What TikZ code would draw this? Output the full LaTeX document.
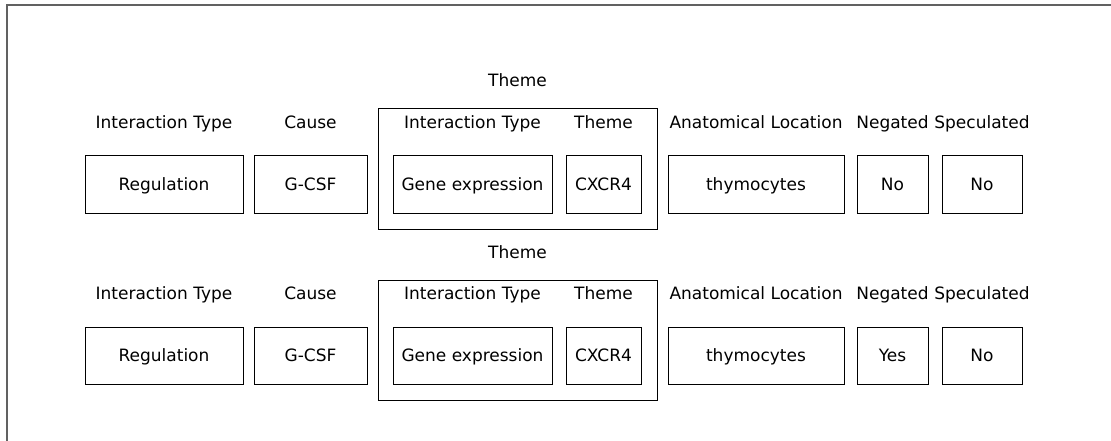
\documentclass[tikz,border=0pt]{standalone}
\usepackage{fontspec}
\setmainfont{DejaVu Sans}
\begin{document}
\begin{tikzpicture}[x=1pt,y=-1pt,
  txt/.style={inner sep=0pt,text height=12pt,text depth=0pt,font=\fontsize{17}{20}\selectfont},
  box/.style={txt,draw=black,line width=1pt,minimum height=57pt},
  lbl/.style={txt},
  outerbox/.style={draw=black,line width=1pt,minimum width=279pt,minimum height=120pt,inner sep=0pt},
  frame/.style={draw=black!62,line width=2pt}]
\useasboundingbox (0,0) rectangle (1111,441);
\clip (0,0) rectangle (1111,441);
\draw[frame] (6.5,5.5) rectangle (1140,470);
\foreach \r/\dy/\neg in {1/0/No,2/171/Yes}{
  \node[outerbox] (outer\r) at (517.5,169+\dy) {};
  \node[lbl] (lth\r) at (517.5,81+\dy) {Theme};
  \node[lbl] (lit\r) at (164,122.5+\dy) {Interaction Type};
  \node[lbl] (lca\r) at (310.5,122.5+\dy) {Cause};
  \node[lbl] (lii\r) at (472.5,122.5+\dy) {Interaction Type};
  \node[lbl] (lit2\r) at (603.5,122.5+\dy) {Theme};
  \node[lbl] (lan\r) at (756,122.5+\dy) {Anatomical Location};
  \node[lbl] (lne\r) at (892.5,122.5+\dy) {Negated};
  \node[lbl] (lsp\r) at (982,122.5+\dy) {Speculated};
  \node[box,minimum width=158pt] (reg\r) at (164,184.5+\dy) {Regulation};
  \node[box,minimum width=113pt] (cau\r) at (310.5,184.5+\dy) {G-CSF};
  \node[box,minimum width=159pt] (gen\r) at (472.5,184.5+\dy) {Gene expression};
  \node[box,minimum width=75pt] (cxc\r) at (603.5,184.5+\dy) {CXCR4};
  \node[box,minimum width=176pt] (thy\r) at (756,184.5+\dy) {thymocytes};
  \node[box,minimum width=71pt] (neg\r) at (892.5,184.5+\dy) {\neg};
  \node[box,minimum width=80pt] (spe\r) at (982,184.5+\dy) {No};
}
\end{tikzpicture}
\end{document}
